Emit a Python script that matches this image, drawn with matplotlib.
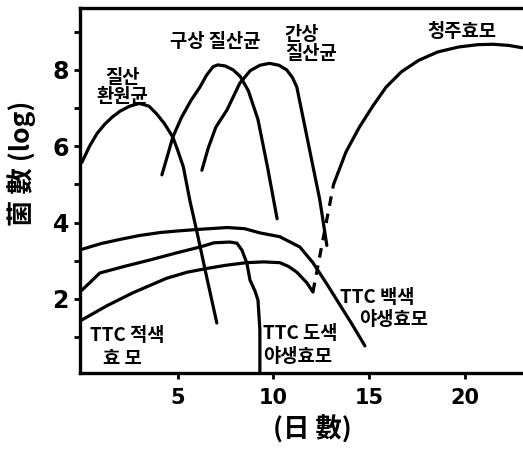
import matplotlib
matplotlib.use("Agg")
import matplotlib.pyplot as plt
from matplotlib.ticker import MultipleLocator

plt.rcParams['font.family'] = ['Noto Sans CJK KR', 'DejaVu Sans']

# ---- data (days, log cell count) ----
nitrate_x = [0, 0.4, 0.8, 1.2, 1.6, 2.0, 2.5, 3.0, 3.5, 3.9, 4.3, 4.75, 5.0, 5.3, 5.64, 6.0, 6.5, 7.05]
nitrate_y = [5.58, 6.0, 6.34, 6.58, 6.77, 6.92, 7.05, 7.12, 7.05, 6.85, 6.6, 6.24, 5.9, 5.46, 4.58, 3.78, 2.62, 1.37]

cocci_x = [4.18, 4.5, 4.75, 5.2, 5.7, 6.17, 6.5, 6.85, 7.1, 7.5, 7.9, 8.27, 8.7, 9.2, 9.7, 10.2]
cocci_y = [5.25, 5.8, 6.24, 6.75, 7.2, 7.55, 7.85, 8.08, 8.13, 8.1, 8.0, 7.83, 7.45, 6.7, 5.45, 4.1]

rod_x = [6.27, 6.6, 7.0, 7.57, 8.25, 8.8, 9.3, 9.8, 10.3, 10.7, 11.0, 11.23, 11.6, 12.07, 12.43, 12.8]
rod_y = [5.37, 5.95, 6.5, 6.94, 7.65, 7.98, 8.12, 8.17, 8.12, 8.0, 7.8, 7.55, 6.64, 5.48, 4.6, 3.4]

sake_dash_x = [12.07, 13.15]
sake_dash_y = [2.18, 5.0]
sake_x = [13.15, 13.8, 14.5, 15.2, 15.9, 16.7, 17.6, 18.6, 19.7, 20.7, 21.5, 22.3, 23.0]
sake_y = [5.0, 5.85, 6.5, 7.05, 7.55, 7.95, 8.25, 8.47, 8.6, 8.66, 8.67, 8.64, 8.58]

white_x = [0, 1, 2, 3, 4.1, 5, 6.05, 7.6, 8.5, 9.3, 10.34, 11.39, 12.07, 12.8, 13.4, 14.1, 14.79]
white_y = [3.3, 3.45, 3.56, 3.66, 3.74, 3.78, 3.82, 3.87, 3.84, 3.73, 3.63, 3.36, 2.95, 2.39, 1.91, 1.35, 0.77]

peach_x = [0, 0.94, 2.2, 3.55, 4.9, 6.17, 6.9, 7.73, 8.1, 8.36, 8.62, 8.78, 9.05, 9.2, 9.3, 9.3]
peach_y = [2.23, 2.68, 2.85, 3.02, 3.2, 3.36, 3.47, 3.49, 3.46, 3.28, 2.94, 2.5, 2.2, 1.97, 1.2, 0.06]

red_x = [0, 1.3, 2.66, 4.42, 5.5, 6.55, 7.5, 8.6, 9.5, 10.34, 10.8, 11.23, 11.76, 12.07]
red_y = [1.45, 1.82, 2.16, 2.54, 2.7, 2.8, 2.88, 2.95, 2.97, 2.95, 2.85, 2.7, 2.42, 2.18]

x_ticks = [5, 10, 15, 20]
y_ticks = [2, 4, 6, 8]

fig = plt.figure(figsize=(5.23, 4.49), dpi=100)
ax = fig.add_axes([80/523, 76/449, 443/523, 365/449])

lw = 2.3
for xs, ys in [(nitrate_x, nitrate_y), (cocci_x, cocci_y), (rod_x, rod_y),
               (sake_x, sake_y), (white_x, white_y), (peach_x, peach_y), (red_x, red_y)]:
    ax.plot(xs, ys, color='black', lw=lw, solid_capstyle='round', solid_joinstyle='round')
ax.plot(sake_dash_x, sake_dash_y, color='black', lw=lw, ls=(0, (3, 2.5)))

ax.set_xlim(-0.1, 23.05)
ax.set_ylim(0.06, 9.62)
ax.set_xticks(x_ticks)
ax.set_yticks(y_ticks)
ax.yaxis.set_minor_locator(MultipleLocator(1))
ax.tick_params(axis='both', which='major', direction='out', length=4, width=2)
ax.tick_params(axis='y', which='minor', direction='out', length=4, width=2)
ax.tick_params(axis='x', pad=7)
ax.tick_params(axis='y', pad=4)
for lab in ax.get_xticklabels():
    lab.set_fontsize(15); lab.set_fontweight('bold'); lab.set_family('DejaVu Sans')
for lab in ax.get_yticklabels():
    lab.set_fontsize(17); lab.set_fontweight('bold'); lab.set_family('DejaVu Sans')

for s in ['left', 'bottom', 'top']:
    ax.spines[s].set_linewidth(2.4)
ax.spines['right'].set_visible(False)

tk = dict(color='black', fontsize=13.5, fontweight='bold')
ax.text(2.1, 7.55, "질산\n환원균", ha='center', va='center', linespacing=1.0, **tk)
ax.text(6.95, 8.73, "구상 질산균", ha='center', va='center', **tk)
ax.text(10.6, 9.18, "간상\n질산균", ha='left', va='top', linespacing=1.0, **tk)
ax.text(19.85, 9.0, "청주효모", ha='center', va='center', **tk)
ax.text(0.42, 1.05, "TTC 적색", ha='left', va='center', **tk)
ax.text(2.1, 0.45, "효 모", ha='center', va='center', **tk)
ax.text(9.46, 1.1, "TTC 도색", ha='left', va='center', **tk)
ax.text(9.46, 0.48, "야생효모", ha='left', va='center', **tk)
ax.text(13.5, 2.05, "TTC 백색", ha='left', va='center', **tk)
ax.text(14.5, 1.45, "야생효모", ha='left', va='center', **tk)

fig.text(22/523, 1 - 163/449, "菌 數 (log)", rotation=90, ha='center', va='center',
         fontsize=19, fontweight='bold')
fig.text(312/523, 1 - 430/449, "(日 數)", ha='center', va='center',
         fontsize=19, fontweight='bold')

fig.savefig("out.png", dpi=100)
